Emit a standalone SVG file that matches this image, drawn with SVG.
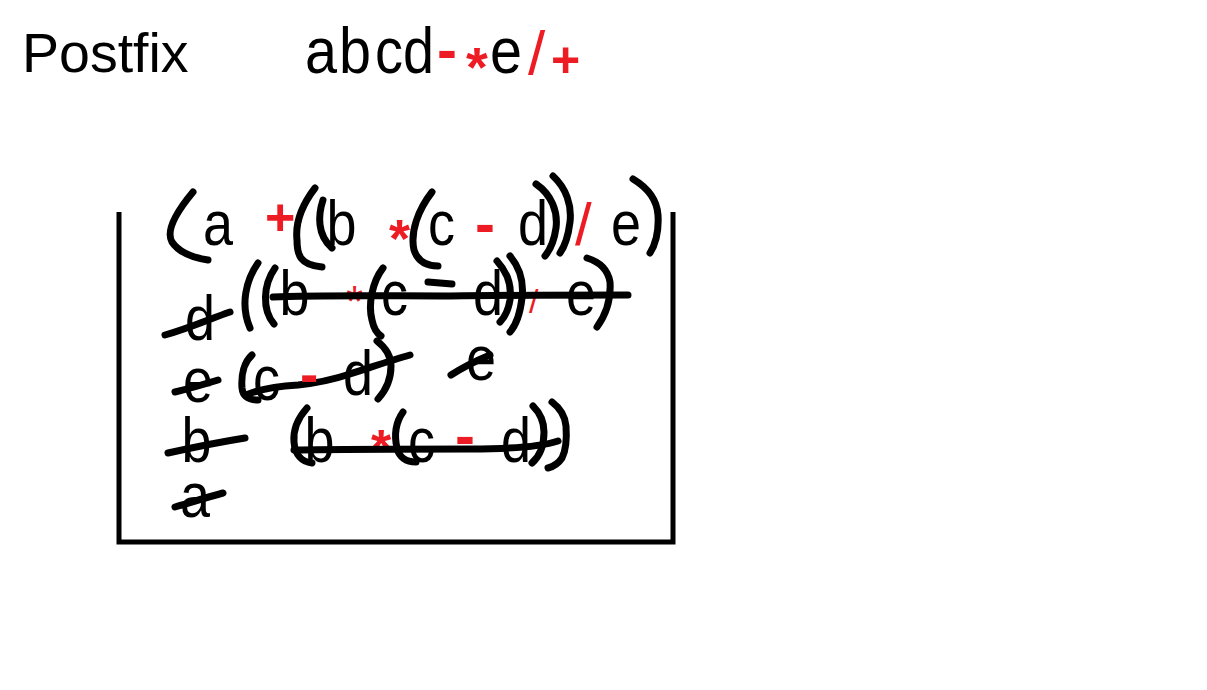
<svg xmlns="http://www.w3.org/2000/svg" width="1207" height="690" viewBox="0 0 1207 690">
<style>
.t{font-family:"Liberation Sans",Arial,sans-serif;fill:#000}
.r{font-family:"Liberation Sans",Arial,sans-serif;fill:#ed1c24}
.rb{font-family:"Liberation Sans",Arial,sans-serif;fill:#ed1c24;font-weight:bold}
.s{fill:none;stroke:#000;stroke-width:7;stroke-linecap:round;stroke-linejoin:round}
.box{fill:none;stroke:#000;stroke-width:5}
</style>
<rect width="1207" height="690" fill="#fff"/>
<g id="title">
<text class="t" x="22" y="72" font-size="55.5">Postfix</text>
<g font-size="64">
<text class="t" x="305" y="73" textLength="32" lengthAdjust="spacingAndGlyphs">a</text>
<text class="t" x="339" y="73" textLength="32" lengthAdjust="spacingAndGlyphs">b</text>
<text class="t" x="375" y="73" textLength="28" lengthAdjust="spacingAndGlyphs">c</text>
<text class="t" x="403" y="73" textLength="31" lengthAdjust="spacingAndGlyphs">d</text>
<text class="rb" x="437" y="70" font-size="60">-</text>
<text class="rb" x="466" y="86" font-size="56">*</text>
<text class="t" x="490" y="73" textLength="32" lengthAdjust="spacingAndGlyphs">e</text>
<text class="r" x="528" y="74" font-size="62">/</text>
<text class="rb" x="551" y="77" font-size="50">+</text>
</g>
</g>
<g id="box">
<path class="box" d="M119,212 V542 H673 V212"/>
</g>
<g id="row1" font-size="63">
<path class="s" d="M193,192 C178,210 165,230 172,242 C180,254 195,258 208,260"/>
<text class="t" x="203" y="245" textLength="30" lengthAdjust="spacingAndGlyphs">a</text>
<text class="rb" x="265" y="235" font-size="52">+</text>
<path class="s" d="M315,188 C302,205 295,222 297,240 C297,255 300,265 322,267"/>
<path class="s" d="M323,200 C318,215 317,235 332,248"/>
<text class="t" x="326.5" y="245" textLength="30" lengthAdjust="spacingAndGlyphs">b</text>
<text class="rb" x="389" y="257" font-size="54">*</text>
<path class="s" d="M432,192 C418,210 410,232 414,250 C418,262 428,266 438,266"/>
<text class="t" x="428" y="245" textLength="27" lengthAdjust="spacingAndGlyphs">c</text>
<text class="rb" x="475" y="244" font-size="60">-</text>
<text class="t" x="518" y="245" textLength="30" lengthAdjust="spacingAndGlyphs">d</text>
<path class="s" d="M536,184 C552,195 558,212 556,228 C554,242 550,250 545,256"/>
<path class="s" d="M553,176 C566,188 572,205 570,222 C568,238 565,246 560,253"/>
<text class="r" x="575" y="245" font-size="60">/</text>
<text class="t" x="611" y="245" textLength="30" lengthAdjust="spacingAndGlyphs">e</text>
<path class="s" d="M633,179 C648,188 657,200 658,215 C659,232 655,245 650,253"/>
</g>
<g id="row2" font-size="63">
<text class="t" x="185" y="340" textLength="30" lengthAdjust="spacingAndGlyphs">d</text>
<path class="s" d="M165,335 C190,328 212,318 230,312"/>
<path class="s" d="M258,263 C246,280 240,305 250,328"/>
<path class="s" d="M275,268 C263,285 262,310 274,324"/>
<text class="t" x="279.5" y="315" textLength="30" lengthAdjust="spacingAndGlyphs">b</text>
<text class="r" x="346" y="317" font-size="44">*</text>
<path class="s" d="M383,268 C372,282 368,305 372,320 C374,330 378,334 381,336"/>
<text class="t" x="381" y="315" textLength="27" lengthAdjust="spacingAndGlyphs">c</text>
<path class="s" d="M428,282 L452,284"/>
<text class="t" x="473" y="315" textLength="30" lengthAdjust="spacingAndGlyphs">d</text>
<path class="s" d="M497,261 C507,272 512,285 510,300 C508,312 504,318 500,322"/>
<path class="s" d="M510,256 C520,268 524,282 522,298 C520,315 516,325 510,332"/>
<text class="r" x="529" y="313" font-size="34">/</text>
<text class="t" x="566" y="315" textLength="30" lengthAdjust="spacingAndGlyphs">e</text>
<path class="s" d="M587,258 C600,262 608,270 610,282 C611,298 608,312 597,327"/>
<path class="s" d="M273,297 C320,295 380,296 450,296 C520,295 580,295 628,295"/>
</g>
<g id="row3" font-size="63">
<text class="t" x="183" y="402" textLength="30" lengthAdjust="spacingAndGlyphs">e</text>
<path class="s" d="M175,392 C192,388 205,384 218,380"/>
<path class="s" d="M252,355 C244,362 241,375 242,388 C243,398 250,400 258,400"/>
<text class="t" x="253" y="400" textLength="27" lengthAdjust="spacingAndGlyphs">c</text>
<path class="s" d="M246,395 C262,388 280,386 298,385 C318,383 335,379 350,374 C372,367 392,360 410,355"/>
<text class="rb" x="300" y="393" font-size="55">-</text>
<text class="t" x="343" y="395" textLength="30" lengthAdjust="spacingAndGlyphs">d</text>
<path class="s" d="M377,341 C386,348 391,356 391,366 C391,378 388,388 378,399"/>
<text class="t" x="466" y="380" textLength="30" lengthAdjust="spacingAndGlyphs">e</text>
<path class="s" d="M451,375 C465,366 478,360 490,355"/>
</g>
<g id="row4" font-size="63">
<text class="t" x="181.5" y="462" textLength="30" lengthAdjust="spacingAndGlyphs">b</text>
<path class="s" d="M168,453 C195,447 220,442 245,438"/>
<path class="s" d="M307,408 C298,418 293,430 294,442 C295,455 302,462 312,463"/>
<text class="t" x="304.5" y="462" textLength="30" lengthAdjust="spacingAndGlyphs">b</text>
<text class="rb" x="371" y="466" font-size="52">*</text>
<path class="s" d="M403,412 C396,422 394,435 397,448 C399,457 406,462 416,462"/>
<text class="t" x="408" y="462" textLength="27" lengthAdjust="spacingAndGlyphs">c</text>
<text class="rb" x="455" y="456" font-size="60">-</text>
<text class="t" x="501" y="462" textLength="30" lengthAdjust="spacingAndGlyphs">d</text>
<path class="s" d="M533,406 C540,413 544,422 544,432 C544,446 540,456 532,463"/>
<path class="s" d="M552,402 C560,408 565,415 566,426 C567,440 565,452 562,458 C558,464 552,467 548,468"/>
<path class="s" d="M294,450 C350,449 420,449 470,449 C510,449 540,447 558,441"/>
<text class="t" x="180" y="517" textLength="30" lengthAdjust="spacingAndGlyphs">a</text>
<path class="s" d="M175,507 C192,502 208,497 223,493"/>
</g>
</svg>
